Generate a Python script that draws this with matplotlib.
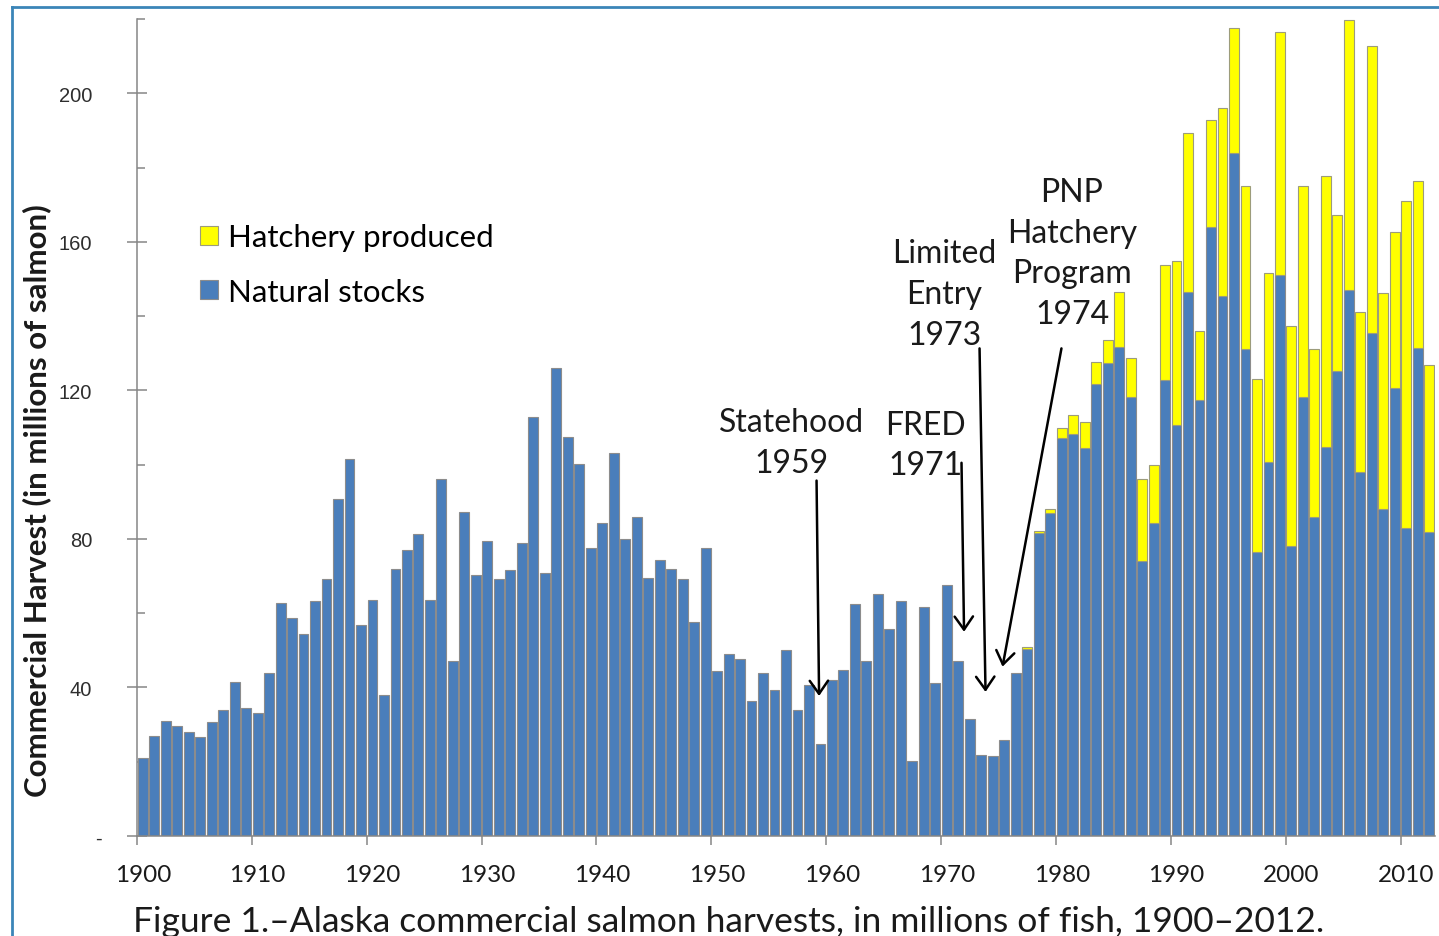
"""Alaska commercial salmon harvests 1900-2012, natural vs hatchery (stacked bars)."""

import numpy as np
import matplotlib
matplotlib.use("Agg")
import matplotlib.pyplot as plt
from matplotlib import font_manager
from matplotlib.ticker import MultipleLocator, FixedLocator
from matplotlib.lines import Line2D
import matplotlib.transforms as mtransforms

# --- data (millions of fish) ---
years = list(range(1900, 2013))

natural = [
    # 1900-1909
    21.0, 27.0, 31.0, 29.5, 28.0, 26.7, 30.8, 34.0, 41.6, 34.6,
    # 1910-1919
    33.0, 43.8, 62.7, 58.7, 54.4, 63.2, 69.2, 90.8, 101.6, 56.8,
    # 1920-1929
    63.5, 38.1, 71.8, 77.1, 81.4, 63.5, 96.0, 47.1, 87.2, 70.4,
    # 1930-1939
    79.5, 69.3, 71.7, 79.0, 112.9, 70.9, 126.0, 107.5, 100.1, 77.6,
    # 1940-1949
    84.2, 103.0, 80.0, 85.9, 69.6, 74.2, 71.9, 69.3, 57.6, 77.6,
    # 1950-1959
    44.4, 49.0, 47.6, 36.3, 43.9, 39.4, 50.0, 33.8, 40.6, 24.7,
    # 1960-1969
    42.1, 44.6, 62.4, 47.0, 65.1, 55.8, 63.3, 20.3, 61.7, 41.2,
    # 1970-1979
    67.7, 47.1, 31.4, 21.9, 21.5, 25.9, 44.0, 50.4, 81.5, 87.1,
    # 1980-1989
    107.2, 108.2, 104.6, 121.6, 127.3, 131.7, 118.3, 74.0, 84.3, 122.8,
    # 1990-1999
    110.6, 146.5, 117.5, 164.0, 145.4, 183.8, 131.2, 76.5, 100.8, 151.1,
    # 2000-2009
    78.1, 118.1, 85.8, 104.7, 125.3, 147.0, 97.9, 135.5, 88.1, 120.7,
    # 2010-2012
    83.0, 131.5, 81.9,
]

hatchery = [0.0] * 77 + [
    # 1977-1979
    0.6, 0.5, 1.0,
    # 1980-1989
    2.6, 5.2, 6.8, 6.0, 6.2, 14.7, 10.3, 22.1, 15.5, 30.9,
    # 1990-1999
    44.3, 42.7, 18.6, 28.8, 50.5, 33.7, 43.9, 46.5, 50.7, 65.4,
    # 2000-2009
    59.3, 57.0, 45.4, 72.9, 42.0, 72.7, 43.1, 77.2, 58.1, 42.0,
    # 2010-2012
    87.9, 44.9, 44.9,
]

decade_labels = list(range(1900, 2011, 10))
y_ticks = [0, 40, 80, 120, 160, 200]
y_tick_labels = ["-", "40", "80", "120", "160", "200"]

# annotation texts and where their arrows go (year, value)
notes = ["Statehood\n1959", "FRED\n1971", "Limited\nEntry\n1973", "PNP\nHatchery\nProgram\n1974"]
note_pos = [(1956.5, 106.0), (1968.1, 105.3), (1969.8, 146.0), (1980.9, 157.0)]
arrow_tail = [(1958.66, 95.7), (1971.28, 100.5), (1972.85, 131.3), (1979.98, 131.3)]
arrow_tip = [(1958.88, 37.7), (1971.50, 55.0), (1973.37, 38.8), (1974.85, 45.6)]

# --- fonts ---
names = {f.name for f in font_manager.fontManager.ttflist}
MAIN_FONT = "Lato" if "Lato" in names else "DejaVu Sans"
if "Liberation Sans Narrow" in names:
    YTICK_FONT, YTICK_SIZE = "Liberation Sans Narrow", 16.5
else:
    YTICK_FONT, YTICK_SIZE = "Liberation Sans", 14.5
plt.rcParams["font.family"] = MAIN_FONT

BLUE = "#4a7ebb"
YELLOW = "#ffff00"
GRID_GRAY = "#868686"

W, H = 1439, 937
fig = plt.figure(figsize=(W / 100, H / 100), dpi=100)
ax = fig.add_axes([137 / W, 100 / H, 1298 / W, 817 / H])

yrs = np.array(years)
nat = np.array(natural)
hat = np.array(hatchery)
has_h = hat > 0

b_nat = ax.bar(yrs, nat, width=0.86, color=BLUE, edgecolor="#8c8c8c", linewidth=0.8, zorder=2)
b_hat = ax.bar(yrs[has_h], hat[has_h], bottom=nat[has_h], width=0.86, color=YELLOW,
               edgecolor="#9c9c7c", linewidth=0.8, zorder=2)

ax.set_xlim(1899.5, 2012.5)
ax.set_ylim(0, 220)

# spines
for s in ("top", "right"):
    ax.spines[s].set_visible(False)
for s in ("left", "bottom"):
    ax.spines[s].set_color(GRID_GRAY)
    ax.spines[s].set_linewidth(1.1)

# y ticks: labelled every 40 (crossing), small inner ticks every 20
ax.set_yticks(y_ticks, y_tick_labels, fontfamily=YTICK_FONT, fontsize=YTICK_SIZE, color="#2e2e2e")
ax.yaxis.set_minor_locator(MultipleLocator(20))
ax.tick_params(axis="y", which="major", direction="inout", length=13.7, width=1.1,
               color=GRID_GRAY, pad=25.5)
ax.tick_params(axis="y", which="minor", direction="in", length=5.8, width=1.1, color=GRID_GRAY)

# x ticks: labels on decades, tick marks between categories
ax.set_xticks(decade_labels, [str(d) for d in decade_labels], fontfamily=MAIN_FONT,
              fontsize=17.5, color="#1a1a1a")
ax.xaxis.set_minor_locator(FixedLocator([d - 0.5 for d in decade_labels]))
ax.tick_params(axis="x", which="major", length=0, pad=20)
ax.tick_params(axis="x", which="minor", direction="out", length=6.5, width=1.1, color=GRID_GRAY)

# push the "-" zero label a little to the right, like the original
ax.get_yticklabels()[0].set_transform(
    ax.get_yticklabels()[0].get_transform()
    + mtransforms.ScaledTranslation(10 / 100, 0, fig.dpi_scale_trans))

# legend
leg = ax.legend([b_hat, b_nat], ["Hatchery produced", "Natural stocks"], loc="upper left",
                bbox_to_anchor=(0.0485, 0.750), frameon=False, borderpad=0, borderaxespad=0,
                handlelength=0.58, handleheight=0.58, handletextpad=0.32, labelspacing=0.84,
                prop={"family": MAIN_FONT, "size": 22.5})

# annotations
for txt, pos in zip(notes, note_pos):
    ax.text(pos[0], pos[1], txt, ha="center", va="center", multialignment="center",
            fontsize=23, family=MAIN_FONT, color="#1a1a1a", linespacing=1.45, zorder=4)
for tail, tip in zip(arrow_tail, arrow_tip):
    ax.annotate("", xy=tip, xytext=tail, zorder=4,
                arrowprops=dict(arrowstyle="->,head_length=0.47,head_width=0.33",
                                mutation_scale=20, lw=1.8, color="black",
                                shrinkA=0, shrinkB=0))

fig.text(37 / W, 1 - 501 / H, "Commercial Harvest (in millions of salmon)", rotation=90,
         ha="center", va="center", fontsize=22.5, fontweight="bold", family=MAIN_FONT, color="#1a1a1a")

fig.text(729 / W, 5 / H, "Figure 1.\u2013Alaska commercial salmon harvests, in millions of fish, 1900\u20132012.",
         ha="center", va="baseline", fontsize=25.5, family=MAIN_FONT, color="#1a1a1a")

# frame line around the figure (only top and left visible in the original crop)
fig.add_artist(Line2D([12 / W, 1.0], [1 - 8 / H, 1 - 8 / H], transform=fig.transFigure,
                      color="#3b85b8", linewidth=2.0))
fig.add_artist(Line2D([12 / W, 12 / W], [0.0, 1 - 8 / H], transform=fig.transFigure,
                      color="#3b85b8", linewidth=2.0))

fig.savefig("out.png", dpi=100)
